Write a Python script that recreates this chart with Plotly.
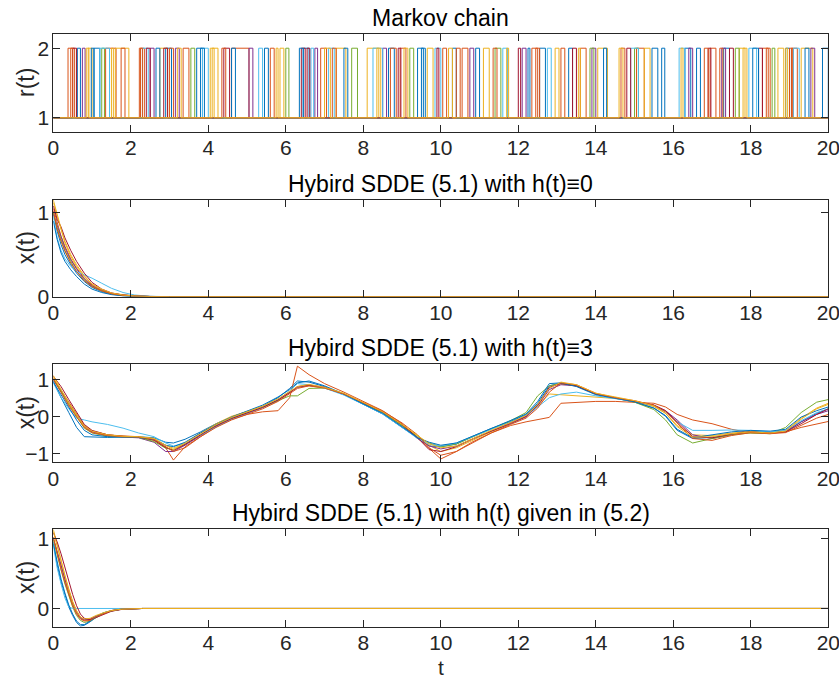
import plotly.graph_objects as go

FONT = "Liberation Sans, Arial, Helvetica, sans-serif"
COLORS = ["#0072BD", "#D95319", "#EDB120", "#7E2F8E", "#77AC30",
          "#4DBEEE", "#A2142F", "#0072BD", "#D95319", "#EDB120"]

# ---------------- Markov chain: intervals spent in state 2 -----------------
chain1 = [[0.62,0.70],[1.05,1.20],[2.9,3.05],[3.7,3.85],[5.45,5.55],[6.45,6.6],[8.65,8.8],[9.4,9.55],[10.9,11.0],[12.55,12.7],[13.3,13.4],[15.45,15.6],[16.3,16.45],[17.3,17.45],[18.9,19.0],[19.85,20]]
chain2 = [[0.38,0.55],[1.35,1.62],[2.25,2.35],[3.35,3.5],[4.6,5.05],[6.9,7.05],[8.95,9.1],[10.05,10.15],[10.55,10.7],[12.35,12.5],[13.6,13.75],[15.05,15.25],[16.95,17.1],[18.3,18.45],[19.05,19.2]]
chain3 = [[0.9,1.0],[1.6,1.95],[2.75,2.95],[4.05,4.25],[5.85,5.95],[7.3,7.55],[8.1,8.4],[9.65,9.8],[11.1,11.25],[12.95,13.05],[14.05,14.3],[15.25,15.4],[17.7,17.85],[18.7,18.85],[19.3,19.6]]
chain4 = [[0.75,0.82],[2.5,2.6],[3.15,3.25],[5.05,5.15],[6.75,6.82],[8.5,8.6],[10.75,10.85],[12.1,12.2],[13.9,14.0],[16.4,16.5],[17.25,17.35],[19.55,19.65]]
chain5 = [[1.25,1.32],[3.55,3.65],[6.0,6.08],[7.7,7.85],[9.2,9.3],[11.4,11.55],[13.85,13.95],[15.0,15.1],[17.6,17.7],[18.55,18.62]]
chain6 = [[1.2,1.45],[2.3,2.45],[3.85,4.0],[5.3,5.4],[6.65,6.72],[7.1,7.25],[8.25,8.5],[9.85,10.0],[11.6,11.72],[12.75,12.85],[14.9,15.1],[16.15,16.3],[17.95,18.15],[19.1,19.25]]
chain7 = [[0.5,0.6],[2.4,2.5],[2.85,2.95],[4.4,4.55],[6.4,6.5],[6.55,6.62],[8.9,8.97],[9.9,9.95],[12.0,12.06],[13.4,13.5],[14.8,14.9],[16.9,16.97],[17.45,17.55],[18.2,18.3]]
chain8 = [[0.98,1.05],[2.65,2.75],[3.8,3.9],[4.6,4.7],[6.35,6.45],[7.5,7.6],[9.5,9.6],[10.3,10.4],[12.25,12.3],[14.2,14.28],[15.7,15.78],[16.6,16.7],[18.05,18.2],[19.4,19.5]]
chain9 = [[0.45,0.5],[1.75,1.85],[2.22,2.3],[3.0,3.1],[4.35,4.45],[5.6,5.7],[7.2,7.3],[8.7,8.85],[10.4,10.5],[11.35,11.45],[12.45,12.55],[13.1,13.2],[14.65,14.75],[16.8,16.9],[17.2,17.28],[18.4,18.5],[19.0,19.08]]
chain10 = [[0.85,0.92],[1.5,1.55],[3.2,3.3],[4.1,4.15],[5.75,5.8],[7.0,7.15],[8.35,8.45],[9.05,9.15],[10.2,10.3],[11.7,11.75],[13.55,13.6],[14.6,14.7],[16.2,16.25],[17.8,17.9],[18.9,18.95]]
chains = [chain1, chain2, chain3, chain4, chain5, chain6, chain7, chain8, chain9, chain10]

# ---------------- h(t) = 0 ----------------
t2 = [0, 0.1, 0.2, 0.3, 0.45, 0.6, 0.8, 1.0, 1.25, 1.5, 1.8, 2.1, 2.5, 3, 20]
h0_1 = [1.0, 0.78, 0.62, 0.5, 0.38, 0.28, 0.18, 0.11, 0.06, 0.03, 0.012, 0.005, 0.001, 0, 0]
h0_2 = [1.05, 0.88, 0.72, 0.6, 0.45, 0.34, 0.22, 0.14, 0.08, 0.04, 0.015, 0.006, 0.002, 0, 0]
h0_3 = [1.12, 0.95, 0.8, 0.66, 0.5, 0.38, 0.25, 0.15, 0.08, 0.04, 0.02, 0.008, 0.002, 0, 0]
h0_4 = [0.98, 0.85, 0.7, 0.58, 0.44, 0.33, 0.21, 0.13, 0.07, 0.04, 0.02, 0.01, 0.003, 0, 0]
h0_5 = [1.0, 0.82, 0.68, 0.55, 0.42, 0.3, 0.2, 0.12, 0.07, 0.035, 0.015, 0.006, 0.002, 0, 0]
h0_6 = [0.95, 0.7, 0.55, 0.45, 0.36, 0.3, 0.26, 0.22, 0.16, 0.1, 0.05, 0.02, 0.005, 0, 0]
h0_7 = [1.08, 0.92, 0.83, 0.7, 0.55, 0.42, 0.28, 0.17, 0.09, 0.045, 0.02, 0.008, 0.002, 0, 0]
h0_8 = [0.9, 0.68, 0.52, 0.42, 0.32, 0.24, 0.15, 0.09, 0.05, 0.025, 0.01, 0.004, 0.001, 0, 0]
h0_9 = [1.02, 0.8, 0.66, 0.54, 0.4, 0.3, 0.19, 0.12, 0.07, 0.035, 0.015, 0.006, 0.002, 0, 0]
h0_10 = [1.15, 0.98, 0.78, 0.64, 0.48, 0.36, 0.24, 0.15, 0.09, 0.045, 0.02, 0.008, 0.002, 0, 0]
h0 = [h0_1, h0_2, h0_3, h0_4, h0_5, h0_6, h0_7, h0_8, h0_9, h0_10]

# ---------------- h(t) = 3 ----------------
t3 = [0, 0.2, 0.4, 0.6, 0.8, 1.0, 1.4, 1.8, 2.2, 2.6,
      2.9, 3.1, 3.4, 3.8, 4.2, 4.6, 5.0, 5.4, 5.8, 6.1,
      6.3, 6.6, 7.0, 7.5, 8.0, 8.5, 9.0, 9.4, 9.7, 10.0,
      10.4, 10.8, 11.3, 11.8, 12.2, 12.5, 12.8, 13.1, 13.5, 14.0,
      14.5, 15.0, 15.5, 15.8, 16.1, 16.5, 17.0, 17.5, 18.0, 18.5,
      18.9, 19.3, 19.7, 20.0]
h3_1 = [0.95, 0.5, 0.1, -0.3, -0.55, -0.56, -0.57, -0.56, -0.55, -0.58, -0.7, -0.72, -0.62, -0.42, -0.2, -0.02, 0.12, 0.27, 0.5, 0.75, 0.95, 0.92, 0.8, 0.58, 0.32, 0.06, -0.3, -0.6, -0.8, -0.82, -0.75, -0.55, -0.33, -0.14, 0.04, 0.35, 0.82, 0.9, 0.82, 0.6, 0.48, 0.38, 0.22, 0.0, -0.38, -0.6, -0.57, -0.48, -0.4, -0.44, -0.42, -0.15, 0.08, 0.2]
h3_2 = [1.02, 0.7, 0.38, 0.05, -0.25, -0.4, -0.5, -0.53, -0.55, -0.65, -0.85, -1.18, -0.82, -0.55, -0.28, -0.08, 0.05, 0.12, 0.15, 0.5, 1.35, 1.12, 0.88, 0.65, 0.4, 0.15, -0.2, -0.58, -0.85, -1.15, -0.95, -0.7, -0.45, -0.25, -0.15, -0.1, -0.03, 0.35, 0.38, 0.4, 0.4, 0.38, 0.35, 0.25, 0.05, -0.1, -0.2, -0.35, -0.45, -0.45, -0.42, -0.3, -0.2, -0.14]
h3_3 = [1.05, 0.7, 0.35, 0.05, -0.25, -0.4, -0.5, -0.54, -0.55, -0.6, -0.78, -0.86, -0.72, -0.45, -0.2, 0.0, 0.12, 0.26, 0.45, 0.65, 0.78, 0.82, 0.76, 0.6, 0.36, 0.1, -0.24, -0.52, -0.78, -0.95, -0.85, -0.65, -0.42, -0.2, 0.0, 0.28, 0.6, 0.58, 0.55, 0.52, 0.48, 0.4, 0.26, 0.08, -0.25, -0.5, -0.52, -0.45, -0.42, -0.44, -0.38, -0.05, 0.22, 0.35]
h3_4 = [0.98, 0.68, 0.32, 0.02, -0.28, -0.42, -0.52, -0.56, -0.58, -0.7, -0.95, -0.95, -0.78, -0.52, -0.27, -0.07, 0.08, 0.23, 0.43, 0.63, 0.78, 0.83, 0.77, 0.6, 0.35, 0.1, -0.25, -0.6, -0.8, -0.88, -0.8, -0.62, -0.4, -0.2, -0.02, 0.28, 0.72, 0.85, 0.82, 0.6, 0.5, 0.42, 0.3, 0.15, -0.1, -0.5, -0.6, -0.5, -0.43, -0.45, -0.4, -0.15, 0.05, 0.15]
h3_5 = [1.0, 0.66, 0.31, 0.0, -0.32, -0.45, -0.54, -0.56, -0.57, -0.68, -0.86, -0.9, -0.75, -0.5, -0.24, -0.04, 0.1, 0.24, 0.42, 0.55, 0.55, 0.75, 0.76, 0.6, 0.35, 0.1, -0.25, -0.55, -0.72, -0.82, -0.75, -0.57, -0.35, -0.12, 0.1, 0.55, 0.82, 0.88, 0.82, 0.6, 0.5, 0.38, 0.18, -0.1, -0.5, -0.72, -0.6, -0.5, -0.45, -0.47, -0.3, 0.1, 0.38, 0.45]
h3_6 = [0.9, 0.5, 0.2, -0.05, -0.1, -0.15, -0.22, -0.32, -0.45, -0.55, -0.72, -0.8, -0.72, -0.5, -0.28, -0.08, 0.08, 0.24, 0.45, 0.68, 0.88, 0.85, 0.76, 0.57, 0.32, 0.06, -0.3, -0.6, -0.75, -0.8, -0.72, -0.55, -0.35, -0.16, 0.02, 0.25, 0.5, 0.6, 0.65, 0.55, 0.47, 0.4, 0.28, 0.12, -0.15, -0.38, -0.38, -0.37, -0.38, -0.42, -0.38, -0.12, 0.1, 0.2]
h3_7 = [1.08, 0.8, 0.45, 0.1, -0.22, -0.38, -0.5, -0.54, -0.56, -0.64, -0.84, -0.92, -0.76, -0.5, -0.25, -0.06, 0.09, 0.24, 0.44, 0.64, 0.8, 0.84, 0.78, 0.6, 0.36, 0.12, -0.22, -0.58, -0.9, -0.95, -0.82, -0.62, -0.4, -0.18, 0.0, 0.3, 0.78, 0.88, 0.82, 0.6, 0.5, 0.42, 0.3, 0.15, -0.15, -0.55, -0.58, -0.48, -0.42, -0.46, -0.42, -0.2, 0.05, 0.2]
h3_8 = [0.92, 0.58, 0.22, -0.1, -0.38, -0.5, -0.55, -0.56, -0.57, -0.62, -0.78, -0.82, -0.7, -0.45, -0.22, -0.02, 0.14, 0.3, 0.52, 0.72, 0.9, 0.95, 0.82, 0.6, 0.33, 0.08, -0.28, -0.58, -0.7, -0.78, -0.72, -0.55, -0.33, -0.12, 0.06, 0.4, 0.88, 0.9, 0.8, 0.58, 0.48, 0.39, 0.22, 0.02, -0.35, -0.58, -0.5, -0.42, -0.38, -0.4, -0.35, -0.02, 0.15, 0.25]
h3_9 = [1.0, 0.62, 0.28, -0.02, -0.3, -0.44, -0.52, -0.55, -0.56, -0.62, -0.82, -0.95, -0.85, -0.55, -0.3, -0.1, 0.05, 0.2, 0.4, 0.6, 0.75, 0.82, 0.76, 0.6, 0.37, 0.14, -0.18, -0.5, -0.85, -1.05, -0.95, -0.72, -0.45, -0.22, -0.05, 0.22, 0.65, 0.9, 0.85, 0.62, 0.5, 0.42, 0.3, 0.12, -0.2, -0.6, -0.65, -0.52, -0.44, -0.47, -0.44, -0.25, -0.05, 0.05]
h3_10 = [1.1, 0.72, 0.35, 0.03, -0.27, -0.4, -0.5, -0.54, -0.55, -0.6, -0.78, -0.9, -0.72, -0.48, -0.23, -0.03, 0.12, 0.27, 0.47, 0.66, 0.8, 0.86, 0.78, 0.62, 0.38, 0.12, -0.22, -0.52, -0.74, -0.85, -0.8, -0.62, -0.38, -0.17, 0.02, 0.32, 0.75, 0.92, 0.85, 0.62, 0.52, 0.42, 0.28, 0.08, -0.28, -0.56, -0.55, -0.47, -0.42, -0.45, -0.4, -0.08, 0.2, 0.32]
h3 = [h3_1, h3_2, h3_3, h3_4, h3_5, h3_6, h3_7, h3_8, h3_9, h3_10]

# ---------------- h(t) given in (5.2) ----------------
t4 = [0, 0.1, 0.2, 0.3, 0.4, 0.5, 0.6, 0.7, 0.8, 0.95, 1.1, 1.3, 1.5, 1.75, 2.0, 2.3, 20]
h52_1 = [0.95, 0.62, 0.38, 0.18, 0.02, -0.1, -0.2, -0.25, -0.24, -0.19, -0.13, -0.07, -0.035, -0.012, -0.004, 0, 0]
h52_2 = [1.0, 0.8, 0.6, 0.4, 0.22, 0.06, -0.06, -0.14, -0.17, -0.16, -0.12, -0.07, -0.035, -0.012, -0.003, 0, 0]
h52_3 = [1.13, 0.9, 0.68, 0.47, 0.28, 0.1, -0.03, -0.12, -0.16, -0.15, -0.11, -0.06, -0.03, -0.01, -0.002, 0, 0]
h52_4 = [1.0, 0.82, 0.62, 0.42, 0.24, 0.08, -0.05, -0.13, -0.16, -0.15, -0.11, -0.065, -0.03, -0.01, -0.003, 0, 0]
h52_5 = [0.98, 0.75, 0.55, 0.35, 0.17, 0.02, -0.1, -0.17, -0.2, -0.18, -0.13, -0.07, -0.035, -0.01, -0.003, 0, 0]
h52_6 = [0.9, 0.58, 0.35, 0.15, 0.02, 0.0, 0, 0, 0, 0, 0, 0, 0, 0, 0, 0, 0]
h52_7 = [1.08, 0.95, 0.78, 0.58, 0.38, 0.2, 0.04, -0.08, -0.14, -0.16, -0.13, -0.08, -0.04, -0.015, -0.004, 0, 0]
h52_8 = [0.92, 0.65, 0.42, 0.22, 0.05, -0.08, -0.18, -0.23, -0.23, -0.18, -0.12, -0.06, -0.03, -0.01, -0.003, 0, 0]
h52_9 = [1.02, 0.78, 0.56, 0.37, 0.19, 0.04, -0.08, -0.15, -0.18, -0.17, -0.12, -0.07, -0.03, -0.01, -0.003, 0, 0]
h52_10 = [1.1, 0.88, 0.66, 0.45, 0.26, 0.09, -0.04, -0.12, -0.15, -0.14, -0.1, -0.06, -0.03, -0.01, -0.002, 0, 0]
h52 = [h52_1, h52_2, h52_3, h52_4, h52_5, h52_6, h52_7, h52_8, h52_9, h52_10]

titles = ["Markov chain", "Hybird SDDE (5.1) with h(t)\u22610",
          "Hybird SDDE (5.1) with h(t)\u22613", "Hybird SDDE (5.1) with h(t) given in (5.2)"]
ylabels = ["r(t)", "x(t)", "x(t)", "x(t)"]
yranges = [[0.8, 2.2], [0, 1.15], [-1.24, 1.4], [-0.26, 1.13]]
yticks = [[1, 2], [0, 1], [-1, 0, 1], [0, 1]]
xticks = [0, 2, 4, 6, 8, 10, 12, 14, 16, 18, 20]

W, H = 839, 681
xdom = [53.3 / W, 828.3 / W]
# pixel top/bottom of each axes box
boxes = [(34.3, 131.7), (200.0, 296.7), (364.3, 462.3), (529.3, 626.7)]
ydoms = [[(H - b) / H, (H - t) / H] for t, b in boxes]

fig = go.Figure()

# Markov chain step lines
for k, iv in enumerate(chains):
    xs, ys = [0], [1]
    for s, e in iv:
        xs += [s, s, e, e]
        ys += [1, 2, 2, 1]
    xs.append(20)
    ys.append(1)
    fig.add_trace(go.Scatter(x=xs, y=ys, mode="lines", xaxis="x", yaxis="y",
                             line=dict(color=COLORS[k], width=1), showlegend=False))

for idx, (tt, group) in enumerate([(t2, h0), (t3, h3), (t4, h52)], start=2):
    for k, vals in enumerate(group):
        fig.add_trace(go.Scatter(x=tt, y=vals, mode="lines", xaxis=f"x{idx}", yaxis=f"y{idx}",
                                 line=dict(color=COLORS[k], width=1), showlegend=False))

axcol = "#262626"
layout = dict(width=W, height=H, margin=dict(l=0, r=0, t=0, b=0, autoexpand=False),
              paper_bgcolor="white", plot_bgcolor="white",
              font=dict(family=FONT, size=21, color=axcol))
annotations = []
for i in range(4):
    sx = "" if i == 0 else str(i + 1)
    common = dict(ticks="inside", ticklen=7, tickcolor=axcol, showline=True, linecolor=axcol,
                  linewidth=1, mirror="ticks", showgrid=False, zeroline=False, automargin=False,
                  ticklabeloverflow="allow", tickfont=dict(family=FONT, size=21, color=axcol))
    layout[f"xaxis{sx}"] = dict(domain=xdom, anchor=f"y{sx}", range=[0, 20], tickvals=xticks,
                                ticklabelstandoff=-3, **common)
    layout[f"yaxis{sx}"] = dict(domain=ydoms[i], anchor=f"x{sx}", range=yranges[i], tickvals=yticks[i],
                                ticklabelstandoff=-1, **common)
    annotations.append(dict(text=titles[i], x=(xdom[0] + xdom[1]) / 2, y=ydoms[i][1],
                            xref="paper", yref="paper", xanchor="center", yanchor="bottom",
                            yshift=1, showarrow=False, font=dict(family=FONT, size=23, color="black")))
    annotations.append(dict(text=ylabels[i], x=26 / W, y=(ydoms[i][0] + ydoms[i][1]) / 2,
                            xref="paper", yref="paper", xanchor="center", yanchor="middle",
                            textangle=-90, showarrow=False, font=dict(family=FONT, size=23, color=axcol)))
annotations.append(dict(text="t", x=(xdom[0] + xdom[1]) / 2, y=0,
                        xref="paper", yref="paper", xanchor="center", yanchor="bottom",
                        showarrow=False, font=dict(family=FONT, size=21, color=axcol)))
layout["annotations"] = annotations
fig.update_layout(**layout)
fig.write_html("out.html", config={"displayModeBar": False},
               post_script="document.body.style.margin='0';document.body.style.padding='0';"
                           "document.documentElement.style.overflow='hidden';")
